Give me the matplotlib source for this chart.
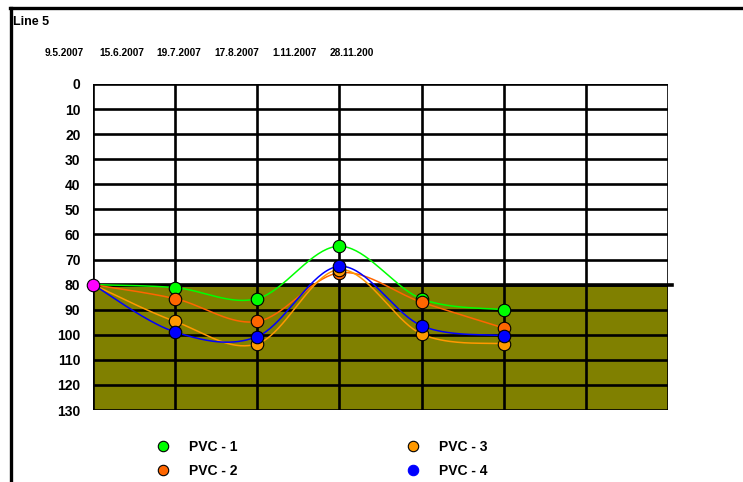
import numpy as np
import matplotlib
matplotlib.use("Agg")
import matplotlib.pyplot as plt
from matplotlib.lines import Line2D

plt.rcParams['font.family'] = ['Liberation Sans', 'DejaVu Sans']
plt.rcParams['font.weight'] = 'bold'

title = "Line 5"
dates = ["9.5.2007", "15.6.2007", "19.7.2007", "17.8.2007", "1.11.2007", "28.11.200"]
n_columns = 7
series_names = ["PVC - 1", "PVC - 2", "PVC - 3", "PVC - 4"]
pvc1 = [80, 81.2, 85.6, 64.7, 85.7, 90.0]
pvc2 = [80, 85.6, 94.7, 75.3, 87.0, 97.3]
pvc3 = [80, 94.7, 103.6, 74.0, 99.7, 103.6]
pvc4 = [80, 98.9, 100.7, 72.7, 96.4, 100.3]
series_colors = ["#00FF00", "#FF6600", "#FF9900", "#0000FF"]
start_value = 80
start_color = "#FF00FF"
limit_value = 80
y_max = 130
y_ticks = list(range(0, 131, 10))


def smooth(xs, ys, n=40):
    xs = np.asarray(xs, float)
    ys = np.asarray(ys, float)
    outx, outy = [], []
    npts = len(xs)
    for i in range(npts - 1):
        p1x, p1y = xs[i], ys[i]
        p2x, p2y = xs[i + 1], ys[i + 1]
        p0x, p0y = (xs[i - 1], ys[i - 1]) if i > 0 else (p1x, p1y)
        p3x, p3y = (xs[i + 2], ys[i + 2]) if i + 2 < npts else (p2x, p2y)
        t = np.linspace(0, 1, n)
        h00 = 2 * t**3 - 3 * t**2 + 1
        h10 = t**3 - 2 * t**2 + t
        h01 = -2 * t**3 + 3 * t**2
        h11 = t**3 - t**2
        m1x, m1y = (p2x - p0x) / 2, (p2y - p0y) / 2
        m2x, m2y = (p3x - p1x) / 2, (p3y - p1y) / 2
        outx.extend(h00 * p1x + h10 * m1x + h01 * p2x + h11 * m2x)
        outy.extend(h00 * p1y + h10 * m1y + h01 * p2y + h11 * m2y)
    return np.array(outx), np.array(outy)


W, H = 743, 482
fig = plt.figure(figsize=(W / 100, H / 100), dpi=100)
ax = fig.add_axes([93 / W, 1 - 410 / H, (668 - 93) / W, (410 - 84) / H])

ax.set_xlim(0, n_columns)
ax.set_ylim(y_max, 0)
ax.axhspan(limit_value, y_max, color="#808000", zorder=0)

for v in y_ticks:
    ax.axhline(v, color="black", lw=1.9, zorder=1)
for i in range(n_columns + 1):
    ax.axvline(i, color="black", lw=1.9, zorder=1)
ax.plot([0, n_columns * 1.007], [limit_value, limit_value], color="black",
        lw=2.6, zorder=1, clip_on=False)

xs = np.arange(len(dates))
all_series = [pvc1, pvc2, pvc3, pvc4]
handles = []
for vals, col, name in zip(all_series, series_colors, series_names):
    sx, sy = smooth(xs, vals)
    ax.plot(sx, sy, color=col, lw=1.1, zorder=3)
    ax.plot(xs[1:], vals[1:], 'o', color=col, mec="black", mew=0.8, ms=9, zorder=4)
    handles.append(Line2D([], [], ls='none', marker='o', color=col,
                          mec="black" if col != "#0000FF" else col, mew=0.8, ms=7.5, label=name))
ax.plot([0], [start_value], 'o', color=start_color, mec="black", mew=0.8, ms=9,
        zorder=5, clip_on=False)

ax.set_yticks(y_ticks)
ax.set_yticklabels([str(v) for v in y_ticks], fontsize=10, fontweight='bold')
ax.set_xticks([])
ax.tick_params(axis='y', length=0, pad=9)
for s in ax.spines.values():
    s.set_visible(False)

# dates at top
for i, d in enumerate(dates):
    fig.text((64 + i * 57.6) / W, 1 - 53 / H, d, ha='center', va='center',
             fontsize=7.3, fontweight='bold')

fig.text(13 / W, 1 - 22 / H, title, ha='left', va='center', fontsize=9, fontweight='bold')

# frame lines
fig.add_artist(Line2D([10 / W, 1], [1 - 8 / H, 1 - 8 / H], color='black', lw=2.4))
fig.add_artist(Line2D([11 / W, 11 / W], [1 - 8 / H, 0], color='black', lw=2.4))

fig.legend(handles=[handles[0], handles[1], handles[2], handles[3]], ncol=2,
           loc='upper left', bbox_to_anchor=(156 / W, 1 - 440 / H), frameon=False,
           prop={'size': 10, 'weight': 'bold'}, handlelength=1.0, handletextpad=1.4,
           columnspacing=12.1, labelspacing=0.7, borderpad=0, borderaxespad=0)

fig.savefig("out.png", dpi=100)
